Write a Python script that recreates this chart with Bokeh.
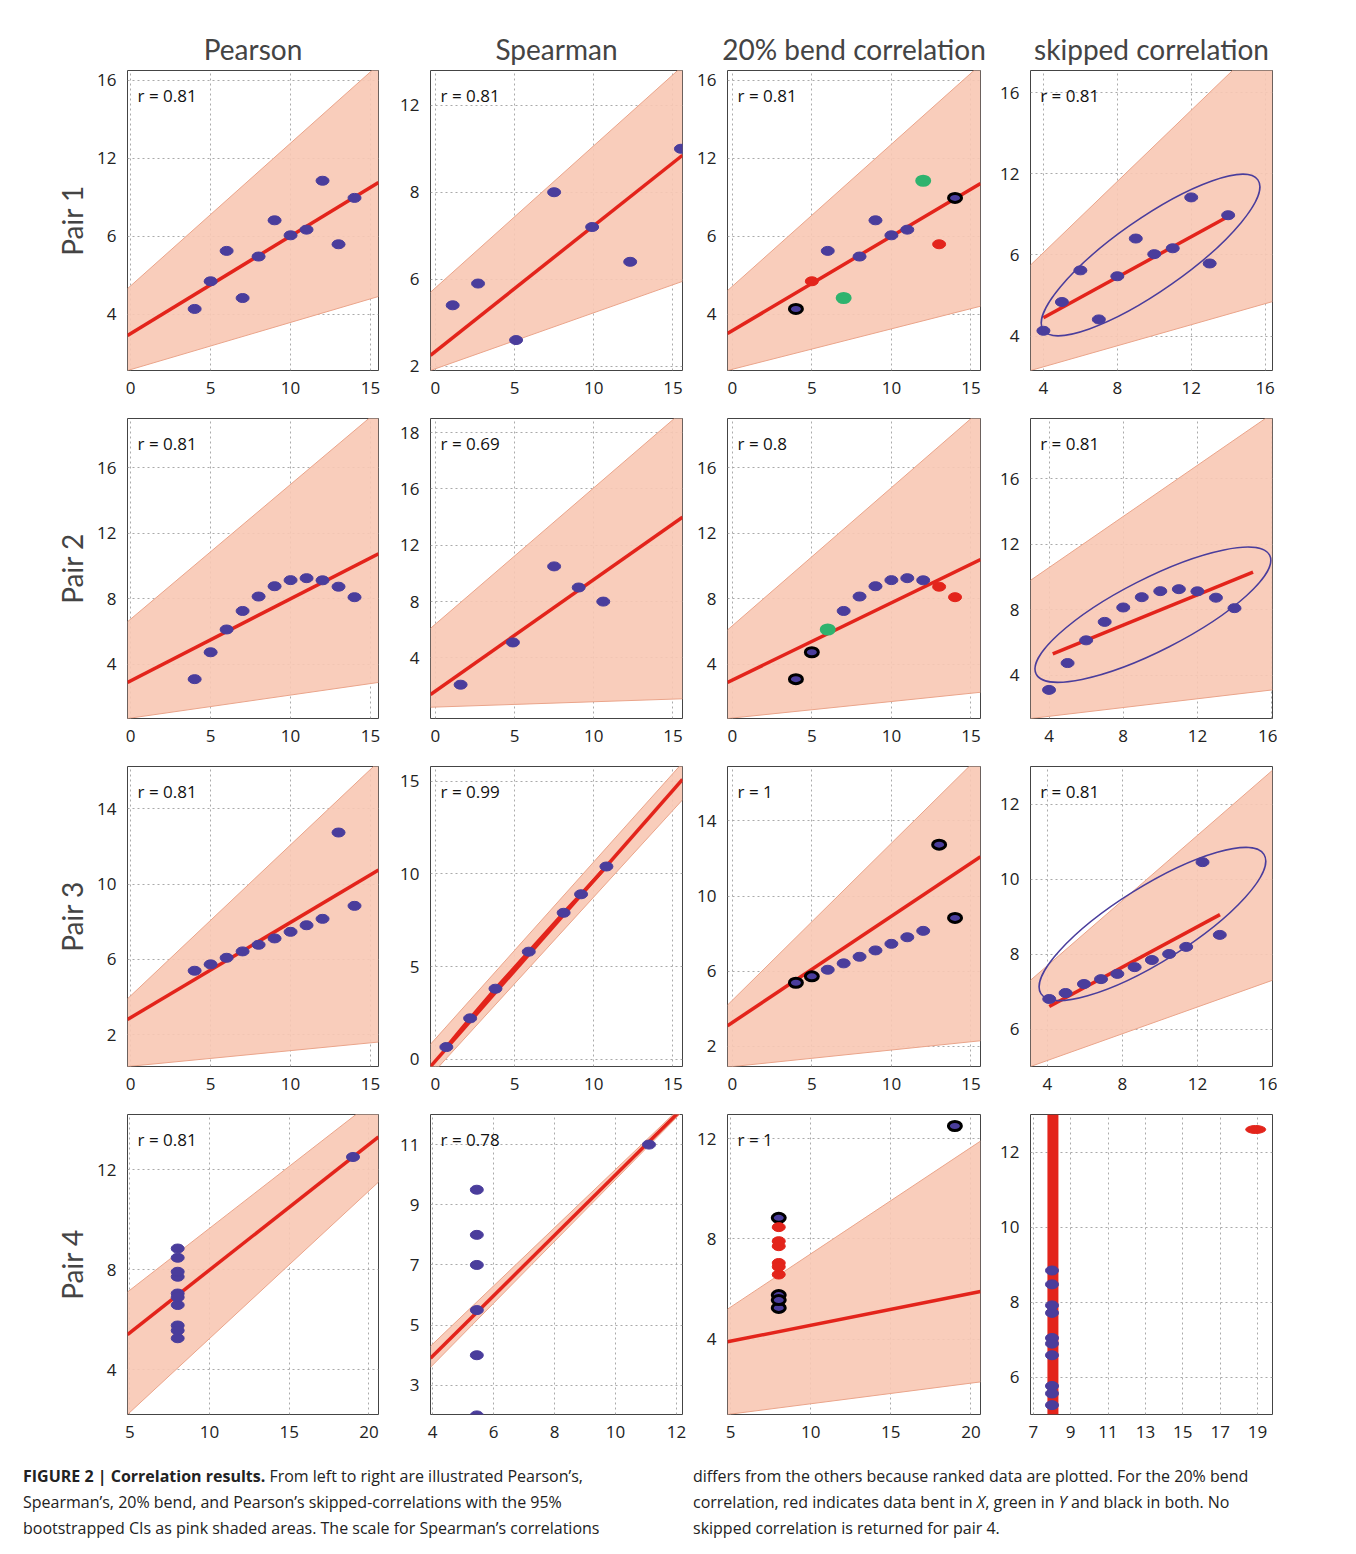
from bokeh.plotting import figure
from bokeh.layouts import gridplot, column
from bokeh.models import Div, Label, FixedTicker
from bokeh.embed import file_html
from bokeh.resources import INLINE

FONT = "Open Sans"
BLUE = "#4a3d9c"
RED = "#e3241b"
GREEN = "#2fb36e"
PINK = "#f8c8b4"
PINKEDGE = "#eaa48a"

# Anscombe quartet
x_ans = [10, 8, 13, 9, 11, 14, 6, 4, 12, 7, 5]
y_p1 = [8.04, 6.95, 7.58, 8.81, 8.33, 9.96, 7.24, 4.26, 10.84, 4.82, 5.68]
y_p2 = [9.14, 8.14, 8.74, 8.77, 9.26, 8.10, 6.13, 3.10, 9.13, 7.26, 4.74]
y_p3 = [7.46, 6.77, 12.74, 7.11, 7.81, 8.84, 6.08, 5.39, 8.15, 6.42, 5.73]
x_p4 = [8, 8, 8, 8, 8, 8, 8, 19, 8, 8, 8]
y_p4 = [6.58, 5.76, 7.71, 8.84, 8.47, 7.04, 5.25, 12.50, 5.56, 7.91, 6.89]

# colour codes for the 20% bend panels (b blue, r bent in X, g bent in Y, k both)
bend_c1 = ["b", "b", "r", "b", "b", "k", "b", "k", "g", "g", "r"]
bend_c2 = ["b", "b", "r", "b", "b", "r", "g", "k", "b", "b", "k"]
bend_c3 = ["b", "b", "k", "b", "b", "k", "b", "k", "b", "b", "k"]
bend_c4 = ["r", "k", "r", "k", "r", "r", "k", "k", "k", "r", "r"]

# Spearman (ranked) points as plotted
sp1_x = [1.1, 2.7, 5.1, 7.5, 9.9, 12.3, 15.5]
sp1_y = [3.4, 3.9, 2.6, 6.0, 5.2, 4.4, 7.0]
sp2_x = [1.6, 4.9, 7.5, 9.05, 10.6]
sp2_y = [2.1, 5.1, 10.5, 9.0, 8.0]
sp3_x = [0.7, 2.2, 3.8, 5.9, 8.1, 9.2, 10.8]
sp3_y = [0.65, 2.2, 3.8, 5.8, 7.9, 8.9, 10.4]
sp4_x = [5.45, 5.45, 5.45, 5.45, 5.45, 5.45, 11.1]
sp4_y = [2.0, 4.0, 5.5, 7.0, 8.0, 9.5, 11.0]

# skipped correlation pair 3 as plotted
sk3_x = [4.1, 4.97, 5.95, 6.86, 7.73, 8.65, 9.57, 10.49, 11.4, 12.27, 13.19]
sk3_y = [6.8, 6.96, 7.2, 7.33, 7.47, 7.65, 7.84, 8.0, 8.19, 10.45, 8.51]
sk4_y = [6.58, 5.76, 7.71, 8.84, 8.47, 7.04, 5.25, 5.56, 7.91, 6.89]

titles = ["Pearson", "Spearman", "20% bend correlation", "skipped correlation"]
r_texts = [["r = 0.81", "r = 0.81", "r = 0.81", "r = 0.81"],
           ["r = 0.81", "r = 0.69", "r = 0.8", "r = 0.81"],
           ["r = 0.81", "r = 0.99", "r = 1", "r = 0.81"],
           ["r = 0.81", "r = 0.78", "r = 1", ""]]

panels = [
    # row 1
    dict(xr=(-0.2, 15.5), yr=(1.1, 16.5), xt=[0, 5, 10, 15], xl=["0", "5", "10", "15"],
         yt=[4, 8, 12, 16], yl=["4", "6", "12", "16"], px=x_ans, py=y_p1,
         fx=[-0.2, 15.5], fy=[2.9, 10.75], bx=[-0.2, 15.5], blo=[1.1, 4.9], bhi=[5.3, 16.8]),
    dict(xr=(-0.3, 15.6), yr=(1.9, 8.8), xt=[0, 5, 10, 15], xl=["0", "5", "10", "15"],
         yt=[2, 4, 6, 8], yl=["2", "6", "8", "12"], px=sp1_x, py=sp1_y,
         fx=[-0.3, 15.6], fy=[2.25, 6.85], bx=[-0.3, 15.6], blo=[1.9, 3.95], bhi=[3.7, 8.9]),
    dict(xr=(-0.3, 15.6), yr=(1.1, 16.5), xt=[0, 5, 10, 15], xl=["0", "5", "10", "15"],
         yt=[4, 8, 12, 16], yl=["4", "6", "12", "16"], px=x_ans, py=y_p1, pc=bend_c1,
         fx=[-0.3, 15.6], fy=[3.0, 10.7], bx=[-0.3, 15.6], blo=[1.1, 4.4], bhi=[5.2, 16.8]),
    dict(xr=(3.3, 16.4), yr=(2.3, 17.1), xt=[4, 8, 12, 16], xl=["4", "8", "12", "16"],
         yt=[4, 8, 12, 16], yl=["4", "6", "12", "16"], px=x_ans, py=y_p1,
         fx=[4.0, 14.0], fy=[4.9, 9.9], bx=[3.3, 16.4], blo=[2.3, 5.7], bhi=[7.5, 19.0],
         ell=(9.8, 8.0, 262, 72, 35)),
    # row 2
    dict(xr=(-0.2, 15.5), yr=(0.7, 19.0), xt=[0, 5, 10, 15], xl=["0", "5", "10", "15"],
         yt=[4, 8, 12, 16], yl=["4", "8", "12", "16"], px=x_ans, py=y_p2,
         fx=[-0.2, 15.5], fy=[2.9, 10.75], bx=[-0.2, 15.5], blo=[0.7, 2.9], bhi=[6.6, 19.5]),
    dict(xr=(-0.3, 15.6), yr=(-0.3, 21.0), xt=[0, 5, 10, 15], xl=["0", "5", "10", "15"],
         yt=[4, 8, 12, 16, 20], yl=["4", "8", "12", "16", "18"], px=sp2_x, py=sp2_y,
         fx=[-0.3, 15.6], fy=[1.4, 14.0], bx=[-0.3, 15.6], blo=[0.5, 1.1], bhi=[6.1, 21.5]),
    dict(xr=(-0.3, 15.6), yr=(0.7, 19.0), xt=[0, 5, 10, 15], xl=["0", "5", "10", "15"],
         yt=[4, 8, 12, 16], yl=["4", "8", "12", "16"], px=x_ans, py=y_p2, pc=bend_c2,
         fx=[-0.3, 15.6], fy=[2.9, 10.4], bx=[-0.3, 15.6], blo=[0.7, 2.3], bhi=[6.1, 19.5]),
    dict(xr=(3.0, 16.05), yr=(1.35, 19.7), xt=[4, 8, 12, 16], xl=["4", "8", "12", "16"],
         yt=[4, 8, 12, 16], yl=["4", "8", "12", "16"], px=x_ans, py=y_p2,
         fx=[4.2, 15.0], fy=[5.3, 10.3], bx=[3.0, 16.05], blo=[1.35, 3.1], bhi=[9.8, 20.0],
         ell=(9.6, 7.7, 262, 72, 27)),
    # row 3
    dict(xr=(-0.2, 15.5), yr=(0.3, 16.25), xt=[0, 5, 10, 15], xl=["0", "5", "10", "15"],
         yt=[2, 6, 10, 14], yl=["2", "6", "10", "14"], px=x_ans, py=y_p3,
         fx=[-0.2, 15.5], fy=[2.8, 10.75], bx=[-0.2, 15.5], blo=[0.3, 1.6], bhi=[3.9, 16.5]),
    dict(xr=(-0.3, 15.6), yr=(-0.4, 15.8), xt=[0, 5, 10, 15], xl=["0", "5", "10", "15"],
         yt=[0, 5, 10, 15], yl=["0", "5", "10", "15"], px=sp3_x, py=sp3_y, poly=True,
         fx=[-0.3, 15.6], fy=[-0.4, 15.1], bx=[-0.3, 15.6], blo=[-0.9, 14.0], bhi=[0.8, 16.0]),
    dict(xr=(-0.3, 15.6), yr=(0.93, 16.9), xt=[0, 5, 10, 15], xl=["0", "5", "10", "15"],
         yt=[2, 6, 10, 14], yl=["2", "6", "10", "14"], px=x_ans, py=y_p3, pc=bend_c3,
         fx=[-0.3, 15.6], fy=[3.1, 12.1], bx=[-0.3, 15.6], blo=[0.9, 2.3], bhi=[4.2, 17.5]),
    dict(xr=(3.1, 16.0), yr=(5.0, 13.0), xt=[4, 8, 12, 16], xl=["4", "8", "12", "16"],
         yt=[6, 8, 10, 12], yl=["6", "8", "10", "12"], px=sk3_x, py=sk3_y,
         fx=[4.1, 13.2], fy=[6.6, 9.05], bx=[3.1, 16.0], blo=[5.0, 7.3], bhi=[7.3, 12.9],
         ell=(9.6, 8.8, 263, 75, 32)),
    # row 4
    dict(xr=(4.85, 20.6), yr=(2.2, 14.2), xt=[5, 10, 15, 20], xl=["5", "10", "15", "20"],
         yt=[4, 8, 12], yl=["4", "8", "12"], px=x_p4, py=y_p4,
         fx=[4.85, 20.6], fy=[5.4, 13.3], bx=[4.85, 20.6], blo=[2.2, 11.5], bhi=[7.1, 14.9]),
    dict(xr=(3.93, 12.2), yr=(2.03, 12.0), xt=[4, 6, 8, 10, 12], xl=["4", "6", "8", "10", "12"],
         yt=[3, 5, 7, 9, 11], yl=["3", "5", "7", "9", "11"], px=sp4_x, py=sp4_y,
         fx=[3.93, 12.2], fy=[3.9, 12.2], bx=[3.93, 12.2], blo=[3.6, 12.1], bhi=[4.3, 12.3]),
    dict(xr=(4.8, 20.6), yr=(1.0, 12.96), xt=[5, 10, 15, 20], xl=["5", "10", "15", "20"],
         yt=[4, 8, 12], yl=["4", "8", "12"], px=x_p4, py=y_p4, pc=bend_c4,
         fx=[4.8, 20.6], fy=[3.9, 5.9], bx=[4.8, 20.6], blo=[1.0, 2.3], bhi=[5.2, 11.9]),
    dict(xr=(6.85, 19.8), yr=(5.0, 13.0), xt=[7, 9, 11, 13, 15, 17, 19],
         xl=["7", "9", "11", "13", "15", "17", "19"],
         yt=[6, 8, 10, 12], yl=["6", "8", "10", "12"], px=[8] * len(sk4_y), py=sk4_y,
         vline=8.05, outlier=(18.9, 12.6)),
]

frame_w = [251, 252, 253, 242]
left_b = [127, 47, 40, 45]
fill_of = {"b": BLUE, "k": BLUE, "r": RED, "g": GREEN}
line_of = {"b": BLUE, "k": "black", "r": RED, "g": GREEN}

figs = []
for i, d in enumerate(panels):
    r, c = divmod(i, 4)
    p = figure(frame_width=frame_w[c], frame_height=300, x_range=d["xr"], y_range=d["yr"],
               output_backend="svg", toolbar_location=None,
               title=titles[c] if r == 0 else None,
               min_border_left=left_b[c], min_border_right=5,
               min_border_top=70 if r == 0 else 18, min_border_bottom=30)
    if r == 0:
        p.title.text_font = "Lato"
        p.title.text_font_size = "28px"
        p.title.text_font_style = "normal"
        p.title.align = "center"
    if c == 0:
        p.yaxis.axis_label = "Pair %d" % (r + 1)
        p.yaxis.axis_label_text_font = "Lato"
        p.yaxis.axis_label_text_font_size = "28px"
        p.yaxis.axis_label_text_font_style = "normal"
    p.xaxis.ticker = FixedTicker(ticks=d["xt"])
    p.yaxis.ticker = FixedTicker(ticks=d["yt"])
    p.xaxis.major_label_overrides = dict(zip(d["xt"], d["xl"]))
    p.yaxis.major_label_overrides = dict(zip(d["yt"], d["yl"]))
    for ax in (p.xaxis, p.yaxis):
        ax.axis_line_color = None
        ax.major_tick_line_color = None
        ax.minor_tick_line_color = None
        ax.major_label_text_font = FONT
        ax.major_label_text_font_size = "17px"
        ax.major_label_text_color = "#222"
    p.grid.grid_line_color = "#aaaaaa"
    p.grid.grid_line_dash = "2 3"
    p.outline_line_color = "#444"
    p.background_fill_color = "white"

    if "bx" in d:
        p.varea(x=d["bx"], y1=d["blo"], y2=d["bhi"], fill_color=PINK, fill_alpha=0.9)
        p.line(d["bx"], d["blo"], line_color=PINKEDGE, line_width=1)
        p.line(d["bx"], d["bhi"], line_color=PINKEDGE, line_width=1)
    if "fx" in d:
        p.line(d["fx"], d["fy"], line_color=RED, line_width=3.5)
    if d.get("poly"):
        p.line(d["px"], d["py"], line_color=RED, line_width=3.5)
    if "vline" in d:
        p.line([d["vline"], d["vline"]], [d["yr"][0], d["yr"][1]], line_color=RED, line_width=11)
    if "ell" in d:
        ex, ey, ew, eh, ea = d["ell"]
        p.ellipse(x=[ex], y=[ey], width=ew, height=eh, angle=ea, angle_units="deg",
                  width_units="screen", height_units="screen",
                  fill_color=None, line_color=BLUE, line_width=1.5)
    cols = d.get("pc", ["b"] * len(d["px"]))
    p.ellipse(x=d["px"], y=d["py"], width=13, height=9, width_units="screen",
              height_units="screen", fill_color=[fill_of[k] for k in cols],
              line_color=[line_of[k] for k in cols],
              line_width=[3 if k in "kg" else 1 for k in cols])
    if "outlier" in d:
        ox, oy = d["outlier"]
        p.ellipse(x=[ox], y=[oy], width=20, height=8, width_units="screen",
                  height_units="screen", fill_color=RED, line_color=RED)
    if r_texts[r][c]:
        x0, x1 = d["xr"]
        y0, y1 = d["yr"]
        p.add_layout(Label(x=x0 + 0.04 * (x1 - x0), y=y1 - 0.12 * (y1 - y0), text=r_texts[r][c],
                           text_font=FONT, text_font_size="17px", text_color="#111"))
    figs.append(p)

grid = gridplot(figs, ncols=4, toolbar_location=None)

caption = Div(width=1330, text="""
<div style="font-family:'Open Sans';font-size:16px;line-height:26px;color:#222;padding:14px 0 0 18px;white-space:nowrap">
<div style="float:left;width:670px"><b>FIGURE 2 | Correlation results.</b> From left to right are illustrated Pearson’s,<br>
Spearman’s, 20% bend, and Pearson’s skipped-correlations with the 95%<br>
bootstrapped CIs as pink shaded areas. The scale for Spearman’s correlations</div>
<div style="float:left;width:620px">differs from the others because ranked data are plotted. For the 20% bend<br>
correlation, red indicates data bent in <i>X</i>, green in <i>Y</i> and black in both. No<br>
skipped correlation is returned for pair 4.</div></div>""")

page = column(grid, caption)
open("out.html", "w").write(file_html(page, INLINE))
